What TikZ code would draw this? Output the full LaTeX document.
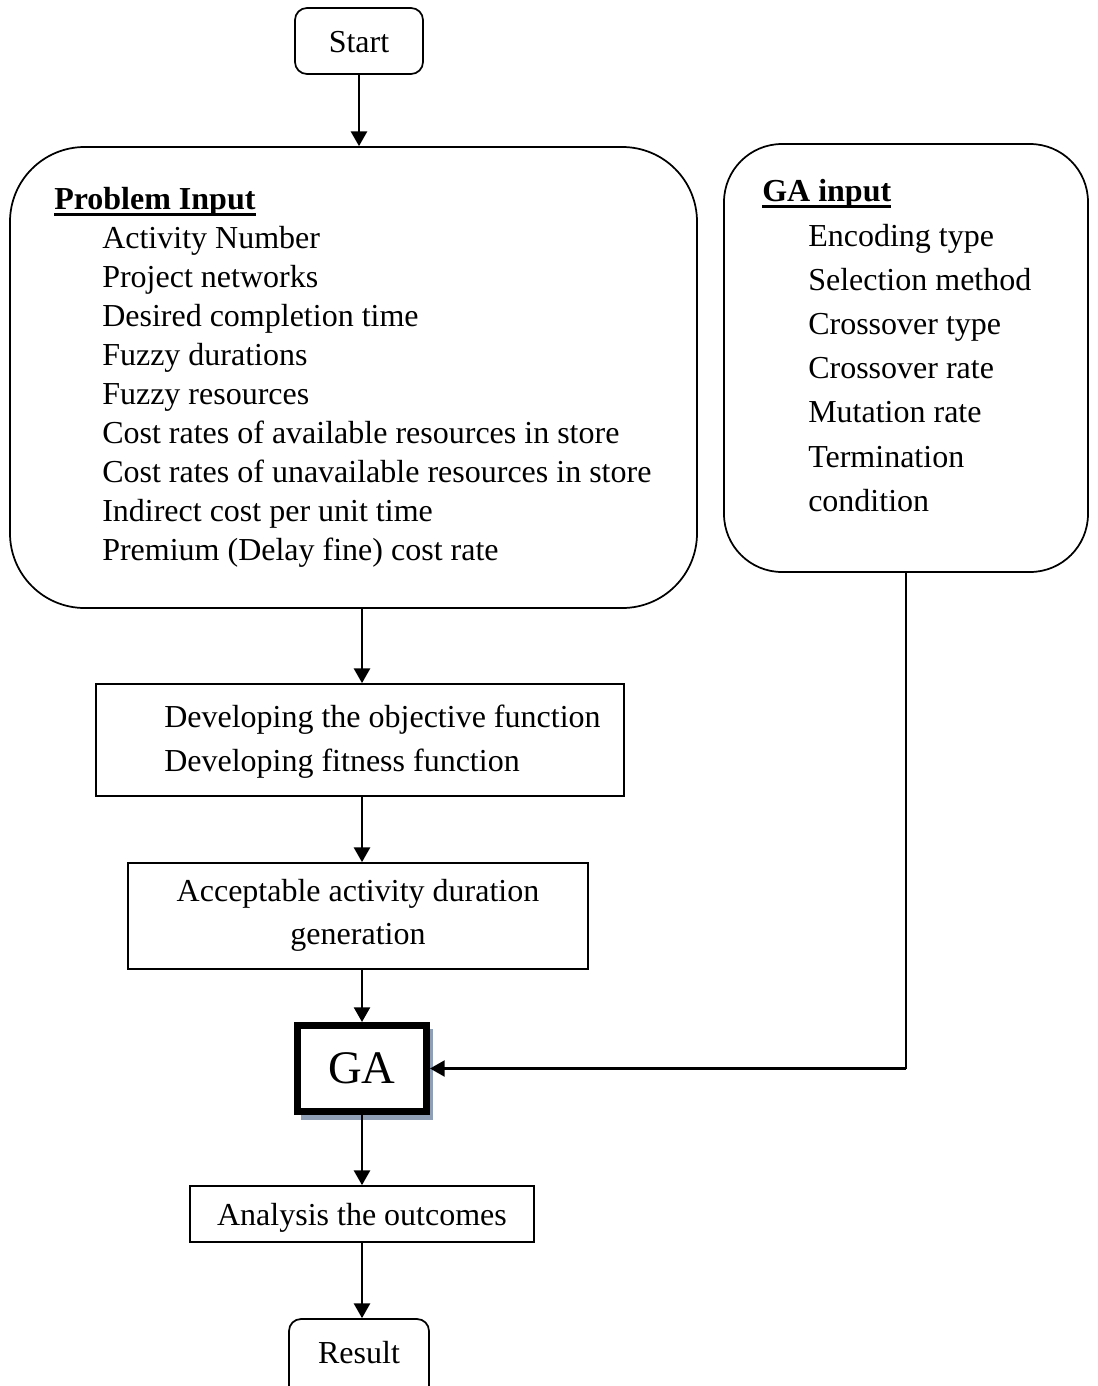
\documentclass[tikz,border=0pt]{standalone}
\usepackage{fontspec}
\setmainfont{Liberation Serif}
\usetikzlibrary{arrows.meta}
\begin{document}
\begin{tikzpicture}[x=0.75pt,y=-0.75pt,
  txt/.style={font=\fontsize{24pt}{29pt}\selectfont, inner sep=0pt, anchor=base west},
  ctxt/.style={font=\fontsize{24pt}{29pt}\selectfont, inner sep=0pt, anchor=base},
  box/.style={draw, line width=1.3pt, inner sep=0pt},
  rbox/.style={box, rounded corners=9pt},
  arr/.style={line width=1.7pt, -{Triangle[length=11pt,width=12pt]}},
  link/.style={line width=1.7pt},
  uline/.style={line width=2.2pt}]
\clip (0,0) rectangle (1098,1386);
\fill[white] (0,0) rectangle (1098,1386);

% start / end terminals
\node[rbox, minimum width=96pt, minimum height=49.5pt] (start) at (359,41) {};
\node[ctxt] (starttxt) at (359,52) {Start};
\node[rbox, minimum width=105pt, minimum height=66pt] (result) at (359,1363) {};
\node[ctxt] (resulttxt) at (359,1363) {Result};

% input panels
\node[box, rounded corners=56pt, minimum width=515.25pt, minimum height=345.75pt] (prob) at (353.5,377.5) {};
\node[box, rounded corners=43.5pt, minimum width=273pt, minimum height=321pt] (gain) at (906,358) {};

\node[txt] (probhead) at (54,209) {\textbf{Problem Input}};
\draw[uline] ([yshift=-4pt]probhead.base west) -- ([yshift=-4pt]probhead.base east);
\foreach \t [count=\i from 0] in {Activity Number, Project networks, Desired completion time,
  Fuzzy durations, Fuzzy resources, Cost rates of available resources in store,
  Cost rates of unavailable resources in store, Indirect cost per unit time,
  Premium (Delay fine) cost rate}
  \node[txt] (p\i) at (102,248+39*\i) {\t};

\node[txt] (gahead) at (762,201) {\textbf{GA input}};
\draw[uline] ([yshift=-4pt]gahead.base west) -- ([yshift=-4pt]gahead.base east);
\foreach \t [count=\i from 0] in {Encoding type, Selection method, Crossover type,
  Crossover rate, Mutation rate, Termination, condition}
  \node[txt] (g\i) at (808,246+44.2*\i) {\t};

% processing steps
\node[box, minimum width=396pt, minimum height=84pt] (obj) at (360,740) {};
\node[txt] (obj1) at (164,727) {Developing the objective function};
\node[txt] (obj2) at (164,771) {Developing fitness function};

\node[box, minimum width=345pt, minimum height=79.5pt] (acc) at (358,916) {};
\node[ctxt] (acc1) at (358,901) {Acceptable activity duration};
\node[ctxt] (acc2) at (358,944) {generation};

% GA core with drop shadow
\fill[fill={rgb,255:red,143;green,160;blue,182}] (301,1029) rectangle (433,1120);
\node[draw, fill=white, line width=5.25pt, minimum width=96.75pt, minimum height=64.5pt, inner sep=0pt] (ga) at (362,1068.5) {};
\node[ctxt, font=\fontsize{35pt}{40pt}\selectfont] (gatxt) at (362,1083) {GA};

\node[box, minimum width=258pt, minimum height=42pt] (ana) at (362,1214) {};
\node[ctxt] (anatxt) at (362,1225) {Analysis the outcomes};

% connectors
\draw[arr] (start.south) -- (start.south |- prob.north);
\draw[arr] (prob.south -| ga) -- (obj.north -| ga);
\draw[arr] (obj.south -| ga) -- (acc.north -| ga);
\draw[arr] (acc.south -| ga) -- (ga.north);
\draw[arr] (ga.south) -- (ana.north -| ga);
\draw[arr] (ana.south -| ga) -- (result.north -| ga);
\coordinate (bend) at (gain.south |- ga.east);
\draw[link] (gain.south) -- (bend);
\draw[arr] (bend) -- (ga.east);
\end{tikzpicture}
\end{document}
